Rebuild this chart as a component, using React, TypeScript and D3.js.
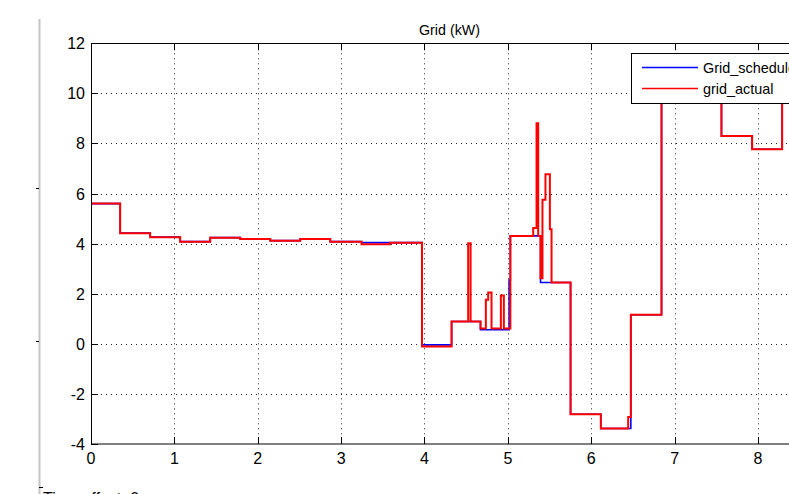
import React from "react";
import * as d3 from "d3";

// ---- data (hours, kW), step-after series ----
const scheduleTimes = [0, 0.35, 0.71, 1.07, 1.43, 1.79, 2.15, 2.51, 2.87, 3.245, 3.585, 3.97, 4.325, 4.672, 5.015, 5.03, 5.392, 5.752, 6.115, 6.475, 6.843, 7.562, 7.93, 8.29, 8.6];
const scheduleValues = [5.6, 4.42, 4.26, 4.08, 4.24, 4.19, 4.12, 4.19, 4.08, 4.04, 4.04, -0.04, 0.89, 0.56, 2.55, 4.31, 2.45, -2.81, -3.38, 1.16, 10.8, 8.3, 7.77, 10.4, 10.4];

const actualTimes = [0, 0.35, 0.71, 1.07, 1.43, 1.79, 2.15, 2.51, 2.87, 3.245, 3.585, 3.97, 4.325, 4.524, 4.553, 4.672, 4.736, 4.764, 4.804, 4.916, 4.952, 5.03, 5.304, 5.344, 5.364, 5.392, 5.415, 5.451, 5.504, 5.524, 5.752, 6.115, 6.443, 6.475, 6.843, 7.562, 7.93, 8.29, 8.6];
const actualValues = [5.6, 4.42, 4.26, 4.08, 4.24, 4.19, 4.12, 4.19, 4.08, 3.98, 4.04, -0.11, 0.89, 4.02, 0.89, 0.61, 1.76, 2.05, 0.61, 1.93, 0.61, 4.31, 4.62, 8.81, 4.31, 2.62, 5.75, 6.77, 4.58, 2.45, -2.81, -3.38, -2.92, 1.16, 10.8, 8.3, 7.77, 10.4, 10.4];

const xTicks = [0, 1, 2, 3, 4, 5, 6, 7, 8];
const yTicks = [-4, -2, 0, 2, 4, 6, 8, 10, 12];
const xDomain = [0, 8.6];
const yDomain = [-4, 12];

const seriesNames = ["Grid_schedule", "grid_actual"];
const titleText = "Grid (kW)";
const footerText = "Time offset:  0";

const W = 789;
const H = 494;
const L = 91;
const R = 808;
const T = 43.3;
const B = 444;

export default function App() {
  const x = d3.scaleLinear().domain(xDomain).range([L, R]);
  const y = d3.scaleLinear().domain(yDomain).range([B, T]);
  const line = d3
    .line<[number, number]>()
    .x((d) => x(d[0]))
    .y((d) => y(d[1]))
    .curve(d3.curveStepAfter);
  const sched = scheduleTimes.map((t, i) => [t, scheduleValues[i]] as [number, number]);
  const act = actualTimes.map((t, i) => [t, actualValues[i]] as [number, number]);
  const font = "'Liberation Sans', Arial, sans-serif";
  const tick = 7;

  return (
    <svg
      width={W}
      height={H}
      style={{ position: "absolute", left: 0, top: 0, background: "#fff" }}
      fontFamily={font}
    >
      <defs>
        <clipPath id="plotclip">
          <rect x={L} y={T} width={R - L} height={B - T} />
        </clipPath>
      </defs>
      <rect x={0} y={0} width={W} height={H} fill="#fff" />

      {/* left gray bar */}
      <line x1={39.5} x2={39.5} y1={19} y2={H} stroke="#c4c4c4" strokeWidth={2} />
      <line x1={36} x2={39} y1={188.5} y2={188.5} stroke="#000" strokeWidth={1} />
      <line x1={36} x2={39} y1={341.5} y2={341.5} stroke="#000" strokeWidth={1} />
      <line x1={39} x2={43} y1={487.5} y2={487.5} stroke="#000" strokeWidth={1} />

      {/* grid */}
      {xTicks.slice(1).map((t) => (
        <line key={"gx" + t} x1={Math.round(x(t)) + 0.5} x2={Math.round(x(t)) + 0.5} y1={T} y2={B}
          stroke="#000" strokeWidth={1} strokeDasharray="1,4" opacity={0.85} />
      ))}
      {yTicks.slice(1, -1).map((t) => (
        <line key={"gy" + t} x1={L} x2={R} y1={Math.round(y(t)) + 0.5} y2={Math.round(y(t)) + 0.5}
          stroke="#000" strokeWidth={1} strokeDasharray="1,4" opacity={0.85} />
      ))}

      {/* data */}
      <g clipPath="url(#plotclip)">
        <path d={line(sched) || ""} fill="none" stroke="#0000ff" strokeWidth={1.6} />
        <path d={line(act) || ""} fill="none" stroke="#ff0000" strokeWidth={2} />
      </g>

      {/* axes box */}
      <rect x={L + 0.5} y={Math.round(T) + 0.5} width={R - L} height={B - Math.round(T) - 0.5}
        fill="none" stroke="#000" strokeWidth={1} />
      {xTicks.map((t) => (
        <g key={"tx" + t}>
          <line x1={Math.round(x(t)) + 0.5} x2={Math.round(x(t)) + 0.5} y1={B} y2={B - tick} stroke="#000" />
          <line x1={Math.round(x(t)) + 0.5} x2={Math.round(x(t)) + 0.5} y1={T} y2={T + tick} stroke="#000" />
          <text x={x(t)} y={464} textAnchor="middle" fontSize={16} fill="#000">{t}</text>
        </g>
      ))}
      {yTicks.map((t) => (
        <g key={"ty" + t}>
          <line x1={L} x2={L + tick} y1={Math.round(y(t)) + 0.5} y2={Math.round(y(t)) + 0.5} stroke="#000" />
          <text x={85} y={y(t) + 6} textAnchor="end" fontSize={16} fill="#000">{t}</text>
        </g>
      ))}

      {/* title */}
      <text x={419} y={35} fontSize={15} fill="#000" textLength={61} lengthAdjust="spacingAndGlyphs">{titleText}</text>

      {/* legend */}
      <rect x={631.5} y={53.5} width={170} height={50} fill="#fff" stroke="#000" strokeWidth={1} />
      <line x1={642} x2={698} y1={67.5} y2={67.5} stroke="#0000ff" strokeWidth={1.5} />
      <line x1={642} x2={698} y1={88.5} y2={88.5} stroke="#ff0000" strokeWidth={1.5} />
      <text x={703} y={73} fontSize={15} fill="#000" textLength={93} lengthAdjust="spacingAndGlyphs">{seriesNames[0]}</text>
      <text x={703} y={94} fontSize={15} fill="#000" textLength={70.5} lengthAdjust="spacingAndGlyphs">{seriesNames[1]}</text>

      {/* footer (cut off at bottom edge, as in the reference) */}
      <text x={43} y={504} fontSize={16} fill="#000">{footerText}</text>
    </svg>
  );
}
